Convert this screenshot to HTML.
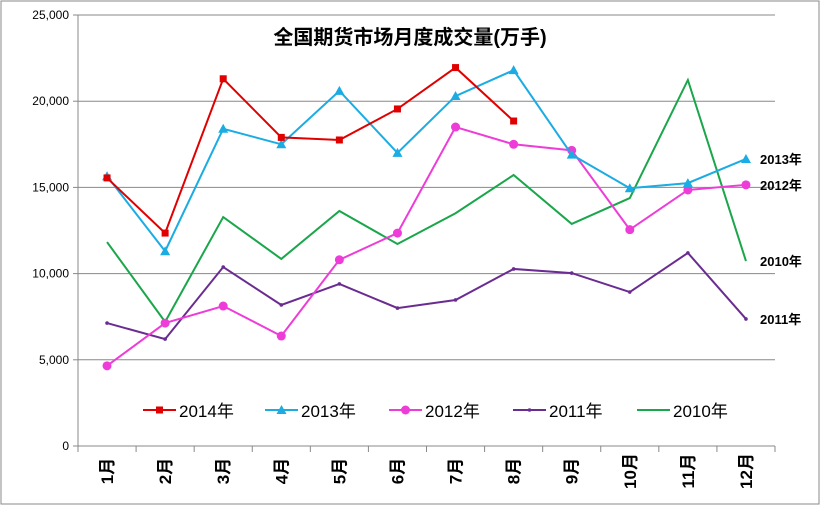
<!DOCTYPE html>
<html><head><meta charset="utf-8"><style>
body{margin:0;background:#fff}
svg{display:block;font-family:"Liberation Sans","Noto Sans CJK SC",sans-serif}
</style></head><body>
<svg id="chart" width="820" height="506">
<rect x="1" y="1" width="818" height="503" fill="#fff" stroke="#888"/>
<text x="410" y="44" text-anchor="middle" font-size="20" font-weight="bold">全国期货市场月度成交量(万手)</text>
<g id="grid"></g><g id="axes"></g><g id="series"></g><g id="legend"></g>
</svg>
<script>
const months=["1月","2月","3月","4月","5月","6月","7月","8月","9月","10月","11月","12月"];
const yTicks=[0,5000,10000,15000,20000,25000];
const yTickLabels=["0","5,000","10,000","15,000","20,000","25,000"];
const s2014=[15550,12350,21300,17900,17750,19550,21950,18850];
const s2013=[15650,11300,18400,17500,20600,17000,20300,21800,16900,14950,15250,16650];
const s2012=[4650,7130,8120,6380,10800,12350,18500,17500,17150,12550,14850,15150];
const s2011=[7130,6200,10380,8180,9400,8000,8470,10270,10030,8930,11200,7370];
const s2010=[11830,7200,13280,10850,13630,11720,13500,15720,12880,14380,21230,10730];
const seriesNames=["2014年","2013年","2012年","2011年","2010年"];
const ns="http://www.w3.org/2000/svg";
const L=78,R=775,T=15,B=446;
const step=(R-L)/months.length;
const xs=i=>L+step*(i+0.5);
const ys=v=>B-(v/25000)*(B-T);
function mk(tag,attrs,parent){const e=document.createElementNS(ns,tag);for(const k in attrs)e.setAttribute(k,attrs[k]);parent.appendChild(e);return e;}
const grid=document.getElementById('grid'),axes=document.getElementById('axes'),ser=document.getElementById('series'),leg=document.getElementById('legend');
yTicks.forEach((t,i)=>{
  if(t>0){const g=mk('line',{x1:L,x2:R,y1:ys(t),y2:ys(t),stroke:'#888','stroke-width':1},grid);
  
  }
  const tk=mk('line',{x1:L-5,x2:L,y1:ys(t),y2:ys(t),stroke:'#888'},axes);
  
  
  const tx=mk('text',{x:L-9,y:ys(t)+4,'text-anchor':'end','font-size':12},axes);
  tx.textContent=yTickLabels[i];
  
  
});
const ya=mk('line',{x1:L,x2:L,y1:T,y2:B,stroke:'#888'},axes);


const xa=mk('line',{x1:L,x2:R,y1:B,y2:B,stroke:'#888'},axes);


for(let i=0;i<=months.length;i++){
  const t=mk('line',{x1:L+step*i,x2:L+step*i,y1:B,y2:B+6,stroke:'#888'},axes);
  
  
}
months.forEach((m,i)=>{
  const t=mk('text',{transform:`translate(${xs(i)+6},471) rotate(-90)`,'text-anchor':'middle','font-size':17,'font-weight':'bold'},axes);
  t.textContent=m;
  
  
});
function marker(type,x,y,c,p){
  if(type==='sq')return mk('rect',{x:x-3.5,y:y-3.5,width:7,height:7,fill:c},p);
  if(type==='tri')return mk('path',{d:`M${x},${y-5}L${x+5},${y+4}L${x-5},${y+4}Z`,fill:c},p);
  if(type==='dot')return mk('circle',{cx:x,cy:y,r:4.5,fill:c},p);
  if(type==='small')return mk('circle',{cx:x,cy:y,r:1.8,fill:c},p);
  return null;
}
const defs=[[s2014,'#e00000','sq'],[s2013,'#1aace3','tri'],[s2012,'#ee3cd8','dot'],[s2011,'#6a2c91','small'],[s2010,'#1aa64a','none']];
const order=[4,3,2,1,0];
order.forEach(k=>{
  const [d,c,mt]=defs[k];
  const g=mk('g',{},ser);
  
  
  const pl=mk('polyline',{points:d.map((v,i)=>xs(i)+','+ys(v)).join(' '),fill:'none',stroke:c,'stroke-width':2},g);
  
  
  d.forEach((v,i)=>{const m=marker(mt,xs(i),ys(v),c,g);if(m){
    
    }});
  if(k>0){const t=mk('text',{x:760,y:ys(d[11])+5,'font-size':13,'font-weight':'bold'},g);
    t.textContent=seriesNames[k].slice(0,4)+'年';
    
    }
});
const legX=[143,265,389,513,637];
defs.forEach((d,k)=>{
  const g=mk('g',{},leg);
  
  
  const y=410,x=legX[k];
  mk('line',{x1:x,x2:x+33,y1:y,y2:y,stroke:d[1],'stroke-width':2},g);
  marker(d[2],x+16.5,y,d[1],g);
  const t=mk('text',{x:x+36,y:y+7,'font-size':17},g);
  t.textContent=seriesNames[k];
});
</script>
</body></html>
